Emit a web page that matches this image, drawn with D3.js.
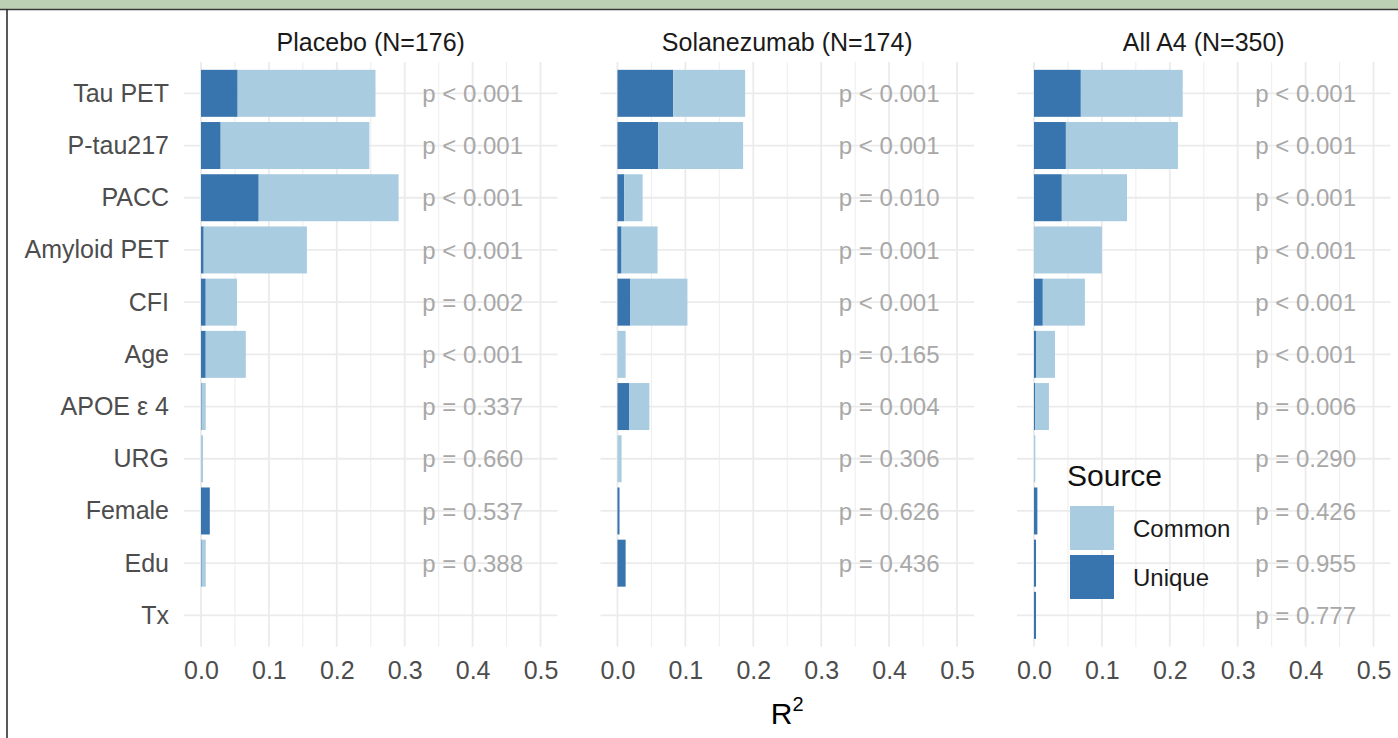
<!DOCTYPE html>
<html>
<head>
<meta charset="utf-8">
<script src="https://cdn.jsdelivr.net/npm/d3@7"></script>
<style>
  body { margin: 0; background: #fff; }
  svg { display: block; font-family: "Liberation Sans", Arial, Helvetica, sans-serif; }
</style>
</head>
<body>
<svg id="chart" width="1398" height="738"></svg>
<script>
// predictors, top to bottom
const predictors = ["Tau PET", "P-tau217", "PACC", "Amyloid PET", "CFI", "Age", "APOE \u03b5 4", "URG", "Female", "Edu", "Tx"];
const groups = ["Placebo (N=176)", "Solanezumab (N=174)", "All A4 (N=350)"];
const sources = ["Unique", "Common"];
const xTicks = [0, 0.1, 0.2, 0.3, 0.4, 0.5];
const xMinor = [0.05, 0.15, 0.25, 0.35, 0.45];

// R2 split into unique / common part, per group
const uniquePlacebo = [0.054, 0.029, 0.085, 0.004, 0.007, 0.007, 0.001, 0.000, 0.013, 0.001, 0];
const commonPlacebo = [0.203, 0.219, 0.206, 0.152, 0.046, 0.059, 0.006, 0.003, 0.000, 0.006, 0];
const uniqueSola = [0.082, 0.060, 0.010, 0.006, 0.019, 0.000, 0.017, 0.000, 0.003, 0.012, 0];
const commonSola = [0.106, 0.125, 0.027, 0.053, 0.084, 0.012, 0.030, 0.006, 0.000, 0.000, 0];
const uniqueAll = [0.069, 0.047, 0.041, 0.000, 0.013, 0.003, 0.002, 0.000, 0.005, 0.003, 0.003];
const commonAll = [0.150, 0.165, 0.096, 0.100, 0.062, 0.028, 0.020, 0.002, 0.000, 0.000, 0.000];

// p-value labels
const pPlacebo = ["p < 0.001", "p < 0.001", "p < 0.001", "p < 0.001", "p = 0.002", "p < 0.001", "p = 0.337", "p = 0.660", "p = 0.537", "p = 0.388", ""];
const pSola = ["p < 0.001", "p < 0.001", "p = 0.010", "p = 0.001", "p < 0.001", "p = 0.165", "p = 0.004", "p = 0.306", "p = 0.626", "p = 0.436", ""];
const pAll = ["p < 0.001", "p < 0.001", "p < 0.001", "p < 0.001", "p < 0.001", "p < 0.001", "p = 0.006", "p = 0.290", "p = 0.426", "p = 0.955", "p = 0.777"];

const uniques = [uniquePlacebo, uniqueSola, uniqueAll];
const commons = [commonPlacebo, commonSola, commonAll];
const pvals = [pPlacebo, pSola, pAll];

const colors = { Common: "#a9cce1", Unique: "#3874ad" };
const gridCol = "#ebebeb";

const svg = d3.select("#chart");

// frame of the cropped figure
svg.append("rect").attr("x", 0).attr("y", 0).attr("width", 1398).attr("height", 9).attr("fill", "#bcd1b4");
svg.append("line").attr("x1", 0).attr("x2", 1398).attr("y1", 9.5).attr("y2", 9.5).attr("stroke", "#3a3a3a").attr("stroke-width", 1.5);
svg.append("line").attr("x1", 7).attr("x2", 7).attr("y1", 9).attr("y2", 738).attr("stroke", "#222").attr("stroke-width", 1.5);

const panelW = 373.5, gap = 43, left0 = 184;
const panelTop = 62, panelBottom = 646.7;

const y = d3.scalePoint().domain(predictors).range([panelTop, panelBottom]).padding(0.6);
const barH = y.step() * 0.9;

groups.forEach((g, gi) => {
  const x0 = left0 + gi * (panelW + gap);
  const x = d3.scaleLinear().domain([-0.025, 0.525]).range([x0, x0 + panelW]);
  const panel = svg.append("g");

  // grid
  panel.selectAll(".minor").data(xMinor).join("line")
    .attr("x1", d => x(d)).attr("x2", d => x(d)).attr("y1", panelTop).attr("y2", panelBottom)
    .attr("stroke", gridCol).attr("stroke-width", 0.9);
  panel.selectAll(".major").data(xTicks).join("line")
    .attr("x1", d => x(d)).attr("x2", d => x(d)).attr("y1", panelTop).attr("y2", panelBottom)
    .attr("stroke", gridCol).attr("stroke-width", 1.8);
  panel.selectAll(".hgrid").data(predictors).join("line")
    .attr("x1", x0).attr("x2", x0 + panelW).attr("y1", d => y(d)).attr("y2", d => y(d))
    .attr("stroke", gridCol).attr("stroke-width", 1.8);

  // stacked bars
  const rows = predictors.map((p, i) => ({ name: p, Unique: uniques[gi][i], Common: commons[gi][i] }));
  const stacked = d3.stack().keys(sources)(rows);
  panel.selectAll(".layer").data(stacked).join("g")
    .attr("fill", d => colors[d.key])
    .selectAll("rect").data(d => d).join("rect")
    .attr("x", d => x(d[0]))
    .attr("width", d => Math.max(0, x(d[1]) - x(d[0])))
    .attr("y", d => y(d.data.name) - barH / 2)
    .attr("height", barH);

  // p-values
  panel.selectAll(".pv").data(predictors).join("text")
    .attr("x", x(0.4)).attr("y", d => y(d)).attr("dy", "0.36em")
    .attr("text-anchor", "middle").attr("font-size", 24).attr("fill", "#a8a8a8")
    .text((d, i) => pvals[gi][i]);

  // strip title
  svg.append("text").attr("x", x0 + panelW / 2).attr("y", 51)
    .attr("text-anchor", "middle").attr("font-size", 25).attr("fill", "#1a1a1a").text(g);

  // x axis
  const ax = svg.append("g").attr("transform", `translate(0,${panelBottom})`)
    .call(d3.axisBottom(x).tickValues(xTicks).tickFormat(d3.format(".1f")).tickSize(0).tickPadding(15));
  ax.select(".domain").remove();
  ax.selectAll("text").attr("font-size", 25).attr("fill", "#4d4d4d").attr("font-family", null);

  if (gi === 0) {
    const ay = svg.append("g").attr("transform", `translate(${x0},0)`)
      .call(d3.axisLeft(y).tickSize(0).tickPadding(15));
    ay.select(".domain").remove();
    ay.selectAll("text").attr("font-size", 25).attr("fill", "#4d4d4d").attr("font-family", null);
  }
});

// x axis title
const xt = svg.append("text").attr("x", left0 + 1.5 * panelW + gap).attr("y", 724)
  .attr("text-anchor", "middle").attr("font-size", 30).attr("fill", "#000");
xt.append("tspan").text("R");
xt.append("tspan").attr("font-size", 20).attr("dy", -13).text("2");

// legend
const leg = svg.append("g");
leg.append("text").attr("x", 1067).attr("y", 486).attr("font-size", 30).attr("fill", "#111").text("Source");
["Common", "Unique"].forEach((k, i) => {
  const ky = 506 + i * 49;
  leg.append("rect").attr("x", 1070).attr("y", ky).attr("width", 44).attr("height", 44).attr("fill", colors[k]);
  leg.append("text").attr("x", 1133).attr("y", ky + 22).attr("dy", "0.36em")
    .attr("font-size", 24).attr("fill", "#1a1a1a").text(k);
});
</script>
</body>
</html>
